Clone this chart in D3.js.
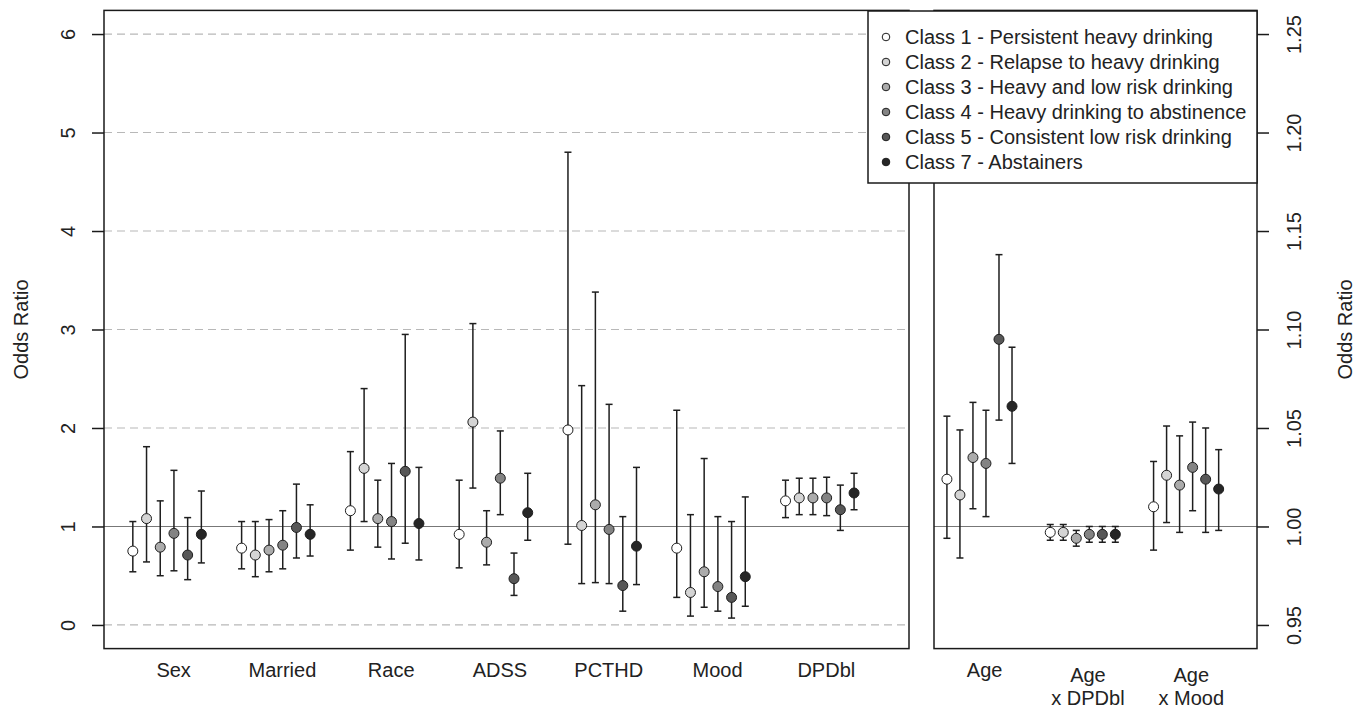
<!DOCTYPE html>
<html>
<head>
<meta charset="utf-8">
<script src="https://cdn.jsdelivr.net/npm/d3@7"></script>
<style>
  body { margin: 0; background: #fff; }
  svg text { font-family: "Liberation Sans", Arial, sans-serif; fill: #222; }
</style>
</head>
<body>
<div id="vis"></div>
<script>
// latent classes (legend order)
const classes = [
  "Class 1 - Persistent heavy drinking",
  "Class 2 - Relapse to heavy drinking",
  "Class 3 - Heavy and low risk drinking",
  "Class 4 - Heavy drinking to abstinence",
  "Class 5 - Consistent low risk drinking",
  "Class 7 - Abstainers"
]

// left panel: main effects, one row per variable, one value per class
const leftVars = ["Sex", "Married", "Race", "ADSS", "PCTHD", "Mood", "DPDbl"]
const leftOR = [
  [0.75, 1.08, 0.79, 0.93, 0.71, 0.92],
  [0.78, 0.71, 0.76, 0.81, 0.99, 0.92],
  [1.16, 1.59, 1.08, 1.05, 1.56, 1.03],
  [0.92, 2.06, 0.84, 1.49, 0.47, 1.14],
  [1.98, 1.01, 1.22, 0.97, 0.40, 0.80],
  [0.78, 0.33, 0.54, 0.39, 0.28, 0.49],
  [1.26, 1.29, 1.29, 1.29, 1.17, 1.34]
]
const leftLo = [
  [0.54, 0.64, 0.50, 0.55, 0.46, 0.63],
  [0.57, 0.49, 0.54, 0.57, 0.68, 0.70],
  [0.76, 1.05, 0.79, 0.67, 0.83, 0.66],
  [0.58, 1.39, 0.61, 1.12, 0.30, 0.86],
  [0.82, 0.42, 0.43, 0.42, 0.14, 0.41],
  [0.28, 0.09, 0.18, 0.14, 0.07, 0.19],
  [1.09, 1.12, 1.12, 1.11, 0.96, 1.17]
]
const leftHi = [
  [1.05, 1.81, 1.26, 1.57, 1.09, 1.36],
  [1.05, 1.05, 1.07, 1.16, 1.43, 1.22],
  [1.76, 2.40, 1.47, 1.64, 2.95, 1.60],
  [1.47, 3.06, 1.16, 1.97, 0.73, 1.54],
  [4.80, 2.43, 3.38, 2.24, 1.10, 1.60],
  [2.18, 1.12, 1.69, 1.10, 1.05, 1.30],
  [1.47, 1.49, 1.49, 1.50, 1.42, 1.54]
]
const leftTicks = [0, 1, 2, 3, 4, 5, 6]

// right panel: age terms
const rightVars = [["Age"], ["Age", "x DPDbl"], ["Age", "x Mood"]]
const rightOR = [
  [1.024, 1.016, 1.035, 1.032, 1.095, 1.061],
  [0.997, 0.997, 0.994, 0.996, 0.996, 0.996],
  [1.010, 1.026, 1.021, 1.030, 1.024, 1.019]
]
const rightLo = [
  [0.994, 0.984, 1.009, 1.005, 1.054, 1.032],
  [0.993, 0.993, 0.990, 0.992, 0.992, 0.992],
  [0.988, 1.002, 0.997, 1.008, 0.997, 0.998]
]
const rightHi = [
  [1.056, 1.049, 1.063, 1.059, 1.138, 1.091],
  [1.001, 1.001, 0.998, 1.000, 1.000, 1.000],
  [1.033, 1.051, 1.046, 1.053, 1.050, 1.039]
]
const rightTicks = [0.95, 1.00, 1.05, 1.10, 1.15, 1.20, 1.25]

const fills = ['#ffffff', '#d4d4d4', '#ababab', '#838383', '#575757', '#262626']
const step = 0.126   // spacing of the classes inside a group

const svg = d3.select('#vis').append('svg')
  .attr('width', 1366)
  .attr('height', 710)

svg.append('rect').attr('width', 1366).attr('height', 710).attr('fill', '#fff')

// scales
const yL = d3.scaleLinear().domain([-0.24, 6.24]).range([648.6, 10.4])
const yR = d3.scaleLinear().domain([0.938, 1.262]).range([648.6, 10.4])
const xL = d3.scaleLinear().domain([-0.58, 6.82]).range([104, 909])
const xR = d3.scaleLinear().domain([-0.44, 2.686]).range([934, 1257])

function flatten(vars, or, lo, hi) {
  let out = []
  vars.forEach((v, i) => {
    classes.forEach((c, j) => {
      out.push({ g: i, k: j, or: or[i][j], lo: lo[i][j], hi: hi[i][j] })
    })
  })
  return out
}

function drawPanel(data, x, y, ref) {
  let g = svg.append('g')
  // reference line at OR = 1
  g.append('line')
    .attr('x1', x.range()[0]).attr('x2', x.range()[1])
    .attr('y1', y(ref)).attr('y2', y(ref))
    .attr('stroke', '#777').attr('stroke-width', 1.2)

  let pos = d => x(d.g + (d.k - 2.5) * step)

  // error bars
  g.selectAll('.bar').data(data).enter().append('line')
    .attr('class', 'bar')
    .attr('x1', pos).attr('x2', pos)
    .attr('y1', d => y(d.lo)).attr('y2', d => y(d.hi))
    .attr('stroke', '#1e1e1e').attr('stroke-width', 1.5)
  g.selectAll('.capHi').data(data).enter().append('line')
    .attr('x1', d => pos(d) - 3.5).attr('x2', d => pos(d) + 3.5)
    .attr('y1', d => y(d.hi)).attr('y2', d => y(d.hi))
    .attr('stroke', '#1e1e1e').attr('stroke-width', 1.5)
  g.selectAll('.capLo').data(data).enter().append('line')
    .attr('x1', d => pos(d) - 3.5).attr('x2', d => pos(d) + 3.5)
    .attr('y1', d => y(d.lo)).attr('y2', d => y(d.lo))
    .attr('stroke', '#1e1e1e').attr('stroke-width', 1.5)

  // point estimates
  g.selectAll('circle').data(data).enter().append('circle')
    .attr('cx', pos).attr('cy', d => y(d.or))
    .attr('r', 5)
    .attr('fill', d => fills[d.k])
    .attr('stroke', '#1e1e1e').attr('stroke-width', 1)
}

// dashed grid on the left panel
svg.append('g').selectAll('line')
  .data(leftTicks.filter(t => t !== 1))
  .enter().append('line')
  .attr('x1', 104).attr('x2', 909)
  .attr('y1', d => yL(d)).attr('y2', d => yL(d))
  .attr('stroke', '#b8b8b8').attr('stroke-width', 1.2)
  .attr('stroke-dasharray', '8,5')

drawPanel(flatten(leftVars, leftOR, leftLo, leftHi), xL, yL, 1)
drawPanel(flatten(rightVars, rightOR, rightLo, rightHi), xR, yR, 1)

// panel boxes
svg.append('rect')
  .attr('x', 104).attr('y', yL.range()[1])
  .attr('width', 909 - 104).attr('height', yL.range()[0] - yL.range()[1])
  .attr('fill', 'none').attr('stroke', '#1a1a1a').attr('stroke-width', 1.5)
svg.append('rect')
  .attr('x', 934).attr('y', yR.range()[1])
  .attr('width', 1257 - 934).attr('height', yR.range()[0] - yR.range()[1])
  .attr('fill', 'none').attr('stroke', '#1a1a1a').attr('stroke-width', 1.5)

// y axes with rotated labels
let axL = svg.append('g').attr('transform', 'translate(104,0)')
  .call(d3.axisLeft(yL).tickValues(leftTicks).tickSize(12).tickFormat(d3.format('d')))
axL.select('.domain').remove()
axL.selectAll('line').attr('stroke', '#1a1a1a').attr('stroke-width', 1.5)
axL.selectAll('text')
  .attr('x', null).attr('dy', null)
  .attr('text-anchor', 'middle')
  .attr('transform', 'translate(-29,0) rotate(-90)')
  .style('font-size', '20px').attr('fill', '#222')

let axR = svg.append('g').attr('transform', 'translate(1257,0)')
  .call(d3.axisRight(yR).tickValues(rightTicks).tickSize(12).tickFormat(d3.format('.2f')))
axR.select('.domain').remove()
axR.selectAll('line').attr('stroke', '#1a1a1a').attr('stroke-width', 1.5)
axR.selectAll('text')
  .attr('x', null).attr('dy', null)
  .attr('text-anchor', 'middle')
  .attr('transform', 'translate(44,0) rotate(-90)')
  .style('font-size', '20px').attr('fill', '#222')

// axis titles
svg.append('text')
  .attr('transform', `translate(28,${(yL.range()[0] + yL.range()[1]) / 2}) rotate(-90)`)
  .attr('text-anchor', 'middle').style('font-size', '20px')
  .text('Odds Ratio')
svg.append('text')
  .attr('transform', `translate(1352,${(yR.range()[0] + yR.range()[1]) / 2}) rotate(-90)`)
  .attr('text-anchor', 'middle').style('font-size', '20px')
  .text('Odds Ratio')

// category labels
svg.append('g').selectAll('text')
  .data(leftVars).enter().append('text')
  .attr('x', (d, i) => xL(i + 0.06))
  .attr('y', 677)
  .attr('text-anchor', 'middle').style('font-size', '20px')
  .text(d => d)

let rl = svg.append('g').selectAll('text')
  .data(rightVars).enter().append('text')
  .attr('text-anchor', 'middle').style('font-size', '20px')
rl.each(function (d, i) {
  let t = d3.select(this)
  let y0 = d.length > 1 ? 682 : 677
  d.forEach((s, k) => {
    t.append('tspan')
      .attr('x', xR(i + 0.05))
      .attr('y', y0 + k * 23)
      .text(s)
  })
})

// legend
let lg = svg.append('g').attr('transform', 'translate(868,11)')
lg.append('rect')
  .attr('width', 389).attr('height', 172)
  .attr('fill', '#fff').attr('stroke', '#1a1a1a').attr('stroke-width', 1.5)
let items = lg.selectAll('.item').data(classes).enter().append('g')
  .attr('transform', (d, i) => `translate(0,${26 + i * 25})`)
items.append('circle')
  .attr('cx', 18).attr('cy', 0).attr('r', 3.8)
  .attr('fill', (d, i) => fills[i])
  .attr('stroke', '#1e1e1e').attr('stroke-width', 1)
items.append('text')
  .attr('x', 37).attr('y', 7)
  .style('font-size', '20px')
  .text(d => d)
</script>
</body>
</html>
